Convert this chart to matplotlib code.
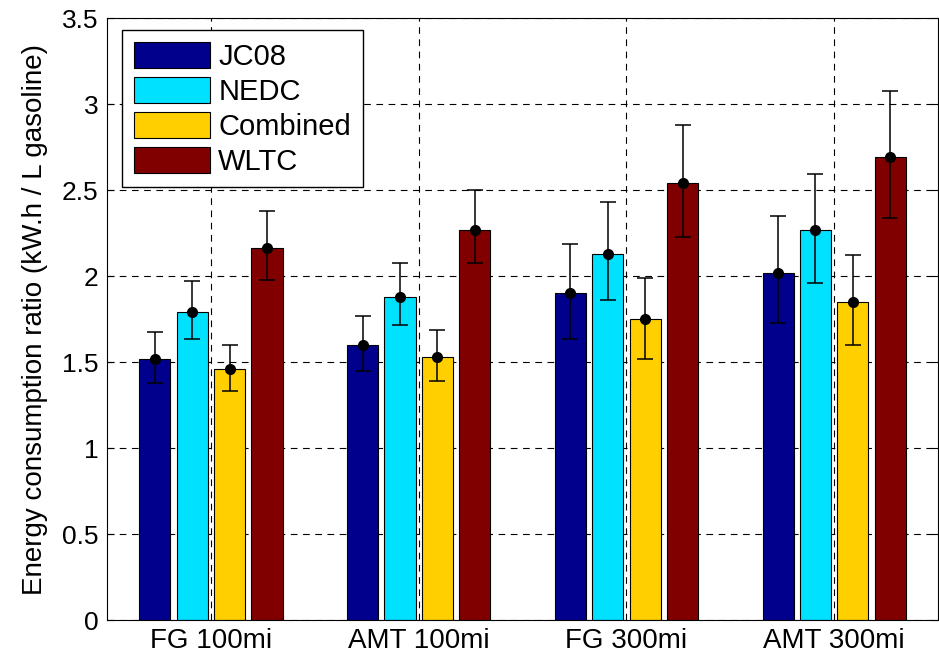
import numpy as np
import matplotlib.pyplot as plt

plt.rcParams['font.family'] = ['Liberation Sans', 'DejaVu Sans']

# Vehicle configurations and driving cycles
configs = ['FG 100mi', 'AMT 100mi', 'FG 300mi', 'AMT 300mi']
cycles = ['JC08', 'NEDC', 'Combined', 'WLTC']
colors = ['#00008C', '#00E0FF', '#FFCF00', '#800000']

# Mean ratio per cycle (rows) and configuration (columns)
jc08 = [1.52, 1.60, 1.90, 2.02]
nedc = [1.79, 1.88, 2.13, 2.27]
combined = [1.46, 1.53, 1.75, 1.85]
wltc = [2.165, 2.27, 2.54, 2.69]

# Upper and lower ends of the error bars
jc08_hi = [1.675, 1.77, 2.185, 2.35]
jc08_lo = [1.38, 1.45, 1.635, 1.73]
nedc_hi = [1.97, 2.075, 2.43, 2.595]
nedc_lo = [1.635, 1.715, 1.86, 1.96]
combined_hi = [1.60, 1.685, 1.99, 2.125]
combined_lo = [1.33, 1.39, 1.52, 1.60]
wltc_hi = [2.38, 2.50, 2.88, 3.075]
wltc_lo = [1.98, 2.075, 2.23, 2.34]

means = [jc08, nedc, combined, wltc]
highs = [jc08_hi, nedc_hi, combined_hi, wltc_hi]
lows = [jc08_lo, nedc_lo, combined_lo, wltc_lo]

fig = plt.figure(figsize=(9.39, 6.57), dpi=100)
ax = fig.add_axes([0.114, 0.0563, 0.885, 0.916])

x = np.arange(1, len(configs) + 1)
width = 0.15
offsets = [-0.27, -0.09, 0.09, 0.27]

for m, hi, lo, off, c, name in zip(means, highs, lows, offsets, colors, cycles):
    m = np.array(m)
    ax.bar(x + off, m, width, color=c, edgecolor='black', linewidth=0.8,
           label=name, zorder=2)
    yerr = [m - np.array(lo), np.array(hi) - m]
    ax.errorbar(x + off, m, yerr=yerr, fmt='o', color='black', ms=7,
                elinewidth=1.1, capsize=6, capthick=1.1, zorder=3)

ax.set_xlim(0.5, 4.5)
ax.set_ylim(0, 3.5)
ax.set_xticks(x)
ax.set_xticklabels(configs, fontsize=20)
ax.set_yticks(np.arange(0, 3.51, 0.5))
ax.set_yticklabels(['0', '0.5', '1', '1.5', '2', '2.5', '3', '3.5'], fontsize=19)
ax.tick_params(axis='both', direction='in', length=5, right=True, top=False)
ax.tick_params(axis='x', length=0, pad=6)
ax.tick_params(axis='y', pad=6)
ax.grid(True, linestyle=(0, (6, 5)), color='black', linewidth=0.8, zorder=0)
ax.set_axisbelow(True)
ax.set_ylabel('Energy consumption ratio (kW.h / L gasoline)', fontsize=20,
              labelpad=10)

ax.legend(loc='upper left', fontsize=21, frameon=True, fancybox=False,
          edgecolor='black', framealpha=1, handlelength=2.6, handleheight=1.0,
          labelspacing=0.2, borderpad=0.4, handletextpad=0.3,
          borderaxespad=0, bbox_to_anchor=(0.018, 0.98))

fig.savefig('out.png', dpi=100)
